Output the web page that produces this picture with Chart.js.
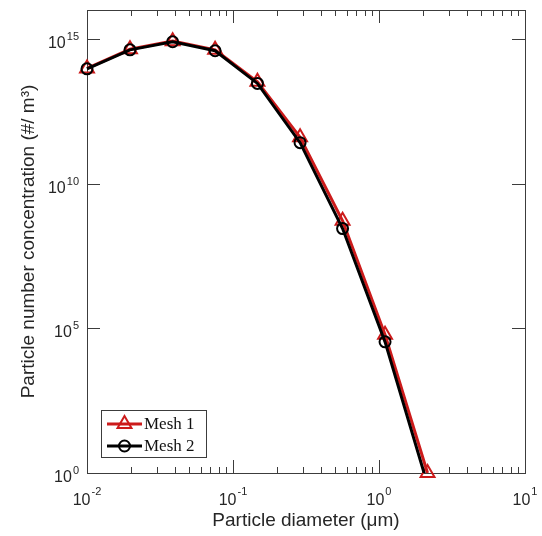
<!doctype html>
<html>
<head>
<meta charset="utf-8">
<title>Particle number concentration</title>
<script src="https://cdn.jsdelivr.net/npm/chart.js@4.4.0/dist/chart.umd.min.js"></script>
<style>
  html, body { margin: 0; padding: 0; background: #fff; }
  canvas { display: block; }
</style>
</head>
<body>
<canvas id="psd" width="542" height="536"></canvas>
<script>
// particle diameter (um) and concentrations (#/m^3) for the two meshes
var diameters = [0.01, 0.0197, 0.0386, 0.0754, 0.147, 0.288, 0.563, 1.1, 2.15];
var mesh1 = [9.6e13, 4.4e14, 8.4e14, 4.2e14, 3.3e13, 4.0e11, 5.2e8, 6.0e4, 1.0];
var mesh2 = [9.3e13, 4.2e14, 8.0e14, 3.9e14, 2.9e13, 2.6e11, 2.8e8, 3.4e4, 0.4];

// ticks drawn MATLAB style (inward, superscript labels)
var xMajor = [0.01, 0.1, 1, 10];
var xMajorExp = ['-2', '-1', '0', '1'];
var xMinorMult = [2, 3, 4, 5, 6, 7, 8, 9];
var yMajor = [1, 1e5, 1e10, 1e15];
var yMajorExp = ['0', '5', '10', '15'];

var sans = '"Liberation Sans", Arial, sans-serif';
var textCol = '#262626';
var axisCol = '#3c3c3c';

Chart.defaults.font.family = sans;

function toPoints(xs, ys) {
	return xs.map(function (x, i) { return { x: x, y: ys[i] }; });
}

// "10" with a raised exponent
function drawPow(ctx, exp, x, baseY, supY, align) {
	ctx.font = '16px ' + sans;
	var wb = ctx.measureText('10').width;
	ctx.font = '11px ' + sans;
	var we = ctx.measureText(exp).width;
	var total = wb + we + 1;
	var left = align === 'right' ? x - total : x - total / 2;
	ctx.fillStyle = textCol;
	ctx.textAlign = 'left';
	ctx.textBaseline = 'alphabetic';
	ctx.font = '16px ' + sans;
	ctx.fillText('10', left, baseY);
	ctx.font = '11px ' + sans;
	ctx.fillText(exp, left + wb + 1, supY);
}

var axesBox = {
	id: 'axesBox',
	beforeDatasetsDraw: function (chart) {
		var ctx = chart.ctx, a = chart.chartArea;
		var xs = chart.scales.x, ys = chart.scales.y;
		ctx.save();
		ctx.strokeStyle = axisCol;
		ctx.lineWidth = 1;
		ctx.strokeRect(Math.round(a.left) + 0.5, Math.round(a.top) + 0.5,
			Math.round(a.right - a.left), Math.round(a.bottom - a.top));

		ctx.beginPath();
		// x ticks, bottom and top
		xMajor.forEach(function (v, i) {
			var px = Math.round(xs.getPixelForValue(v)) + 0.5;
			ctx.moveTo(px, a.bottom); ctx.lineTo(px, a.bottom - 13);
			ctx.moveTo(px, a.top); ctx.lineTo(px, a.top + 13);
			if (i < xMajor.length - 1) {
				xMinorMult.forEach(function (m) {
					var pm = Math.round(xs.getPixelForValue(v * m)) + 0.5;
					ctx.moveTo(pm, a.bottom); ctx.lineTo(pm, a.bottom - 6);
					ctx.moveTo(pm, a.top); ctx.lineTo(pm, a.top + 6);
				});
			}
		});
		// y ticks, left and right
		yMajor.forEach(function (v) {
			var py = Math.round(ys.getPixelForValue(v)) + 0.5;
			ctx.moveTo(a.left, py); ctx.lineTo(a.left + 13, py);
			ctx.moveTo(a.right, py); ctx.lineTo(a.right - 13, py);
		});
		ctx.stroke();

		xMajor.forEach(function (v, i) {
			drawPow(ctx, xMajorExp[i], xs.getPixelForValue(v), a.bottom + 32, a.bottom + 22, 'center');
		});
		yMajor.forEach(function (v, i) {
			var py = ys.getPixelForValue(v);
			drawPow(ctx, yMajorExp[i], a.left - 8, py + 9, py + 1, 'right');
		});
		ctx.restore();
	},
	afterDraw: function (chart) {
		// legend box in the lower left corner of the axes
		var ctx = chart.ctx, a = chart.chartArea;
		var bx = a.left + 14, by = a.bottom - 63, bw = 105, bh = 47;
		ctx.save();
		ctx.fillStyle = '#fff';
		ctx.fillRect(bx, by, bw, bh);
		ctx.strokeStyle = axisCol;
		ctx.lineWidth = 1;
		ctx.strokeRect(Math.round(bx) + 0.5, Math.round(by) + 0.5, bw, bh);
		var order = [0, 1];
		order.forEach(function (di, row) {
			var ds = chart.data.datasets[di];
			var ly = by + 14 + row * 22;
			var x0 = bx + 6, x1 = bx + 41;
			ctx.strokeStyle = ds.borderColor;
			ctx.lineWidth = ds.borderWidth;
			ctx.beginPath();
			ctx.moveTo(x0, ly); ctx.lineTo(x1, ly);
			ctx.stroke();
			ctx.lineWidth = ds.pointBorderWidth;
			ctx.fillStyle = 'rgba(0,0,0,0)';
			Chart.helpers.drawPoint(ctx, {
				pointStyle: ds.pointStyle,
				radius: ds.pointRadius,
				rotation: 0,
				borderWidth: ds.pointBorderWidth
			}, (x0 + x1) / 2, ly);
			ctx.fillStyle = '#111';
			ctx.font = '17px "Liberation Serif", "Times New Roman", serif';
			ctx.textAlign = 'left';
			ctx.textBaseline = 'middle';
			ctx.fillText(ds.label, x1 + 2, ly + 1);
		});
		ctx.restore();
	}
};

new Chart('psd', {
	type: 'line',
	data: {
		datasets: [
			{
				label: 'Mesh 1',
				data: toPoints(diameters, mesh1),
				borderColor: '#cc1b1b',
				backgroundColor: 'rgba(0,0,0,0)',
				borderWidth: 3,
				pointStyle: 'triangle',
				pointRadius: 8,
				pointBorderWidth: 2,
				pointBorderColor: '#cc1b1b',
				pointBackgroundColor: 'rgba(0,0,0,0)',
				clip: 12,
				order: 2
			},
			{
				label: 'Mesh 2',
				data: toPoints(diameters, mesh2),
				borderColor: '#000',
				backgroundColor: 'rgba(0,0,0,0)',
				borderWidth: 3,
				pointStyle: 'circle',
				pointRadius: 5.5,
				pointBorderWidth: 2,
				pointBorderColor: '#000',
				pointBackgroundColor: 'rgba(0,0,0,0)',
				clip: { left: 10, top: 10, right: 10, bottom: 0 },
				order: 1
			}
		]
	},
	options: {
		responsive: false,
		animation: false,
		devicePixelRatio: 1,
		layout: {
			padding: { left: 0, right: 17, top: 10, bottom: 0 }
		},
		plugins: {
			legend: { display: false },
			tooltip: { enabled: false }
		},
		scales: {
			x: {
				type: 'logarithmic',
				min: 0.01,
				max: 10,
				grid: { display: false, drawTicks: false },
				border: { display: false },
				ticks: { display: false },
				title: {
					display: true,
					text: 'Particle diameter (\u03bcm)',
					color: textCol,
					font: { size: 19 },
					padding: { top: 36.6, bottom: 3.6 }
				}
			},
			y: {
				type: 'logarithmic',
				min: 1,
				max: 1e16,
				grid: { display: false, drawTicks: false },
				border: { display: false },
				ticks: { display: false },
				title: {
					display: true,
					text: 'Particle number concentration (#/ m\u00b3)',
					color: textCol,
					font: { size: 19 },
					padding: { top: 17, bottom: 47.2 }
				}
			}
		}
	},
	plugins: [axesBox]
});
</script>
</body>
</html>
